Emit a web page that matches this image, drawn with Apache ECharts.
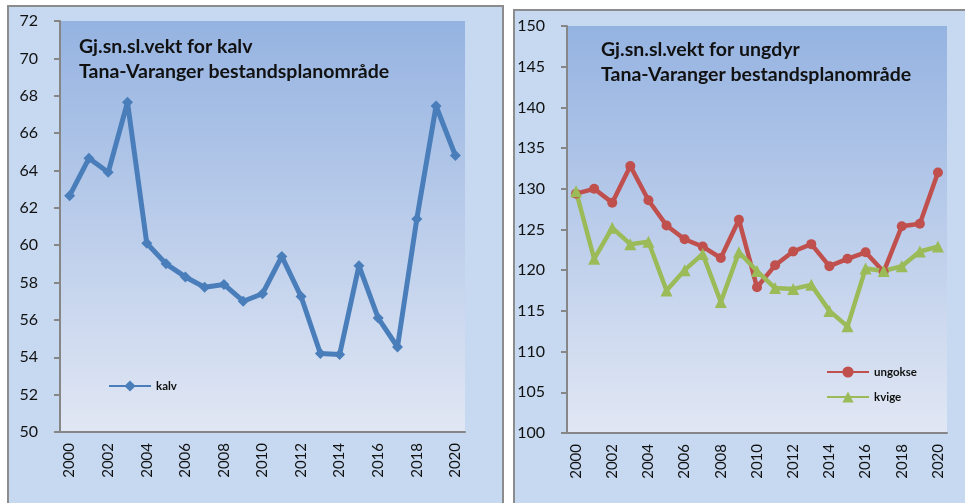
<!DOCTYPE html>
<html>
<head>
<meta charset="utf-8">
<script src="https://cdn.jsdelivr.net/npm/echarts@6/dist/echarts.min.js"></script>
<style>
  body { margin: 0; background: #fff; width: 965px; height: 503px; overflow: hidden; position: relative; }
  .panel { position: absolute; box-sizing: border-box; border: 2px solid #8c8c8c; background: #c6d9f1; }
  #chart { position: absolute; left: 0; top: 0; width: 965px; height: 503px; }
</style>
</head>
<body>
<div class="panel" style="left:7px; top:5px; width:497px; height:520px"></div>
<div class="panel" style="left:513px; top:9px; width:470px; height:520px"></div>
<div id="chart"></div>
<script>
const years = ['2000','2001','2002','2003','2004','2005','2006','2007','2008','2009','2010',
  '2011','2012','2013','2014','2015','2016','2017','2018','2019','2020'];
const kalv = [62.65, 64.65, 63.9, 67.65, 60.1, 59.0, 58.3, 57.75, 57.9, 57.0, 57.4,
  59.4, 57.25, 54.2, 54.15, 58.9, 56.1, 54.55, 61.4, 67.45, 64.8];
const ungokse = [129.4, 130.0, 128.3, 132.8, 128.6, 125.5, 123.8, 122.9, 121.5, 126.2, 117.9,
  120.6, 122.3, 123.2, 120.5, 121.4, 122.2, 119.8, 125.4, 125.7, 132.0];
const kvige = [129.7, 121.4, 125.2, 123.2, 123.5, 117.5, 120.0, 122.0, 116.1, 122.2, 119.9,
  117.8, 117.7, 118.2, 115.0, 113.1, 120.2, 119.9, 120.5, 122.3, 122.9];

const font = 'Lato, "Open Sans", sans-serif';
const plotBg = new echarts.graphic.LinearGradient(0, 0, 0, 1, [
  { offset: 0, color: '#95b3e1' },
  { offset: 1, color: '#e1e7f4' }
]);
const axisGray = '#868686';

function xAxis(gridIndex) {
  return {
    type: 'category', gridIndex: gridIndex, data: years, boundaryGap: true,
    axisLine: { lineStyle: { color: axisGray, width: 2 } },
    axisTick: { interval: 0, length: 5, lineStyle: { color: axisGray, width: 2 } },
    axisLabel: { interval: 1, rotate: 90, margin: 11, color: '#111', fontSize: 15, fontFamily: font }
  };
}
function yAxis(gridIndex, min, max, step) {
  return {
    type: 'value', gridIndex: gridIndex, min: min, max: max, interval: step,
    axisLine: { show: true, lineStyle: { color: axisGray, width: 2 } },
    axisTick: { show: true, length: 6, lineStyle: { color: axisGray, width: 2 } },
    splitLine: { show: false },
    axisLabel: { margin: 22, color: '#111', fontSize: 16, fontFamily: font }
  };
}

const titleStyle = { fontSize: 19.5, fontWeight: 'bold', color: '#111', fontFamily: font, lineHeight: 25 };
const legendText = { fontSize: 11.5, fontWeight: 'bold', color: '#111', fontFamily: font };

const chart = echarts.init(document.getElementById('chart'));
chart.setOption({
  animation: false,
  title: [
    { text: 'Gj.sn.sl.vekt for kalv\nTana-Varanger bestandsplanområde', left: 74, top: 29, textStyle: titleStyle },
    { text: 'Gj.sn.sl.vekt for ungdyr\nTana-Varanger bestandsplanområde', left: 596, top: 32, textStyle: titleStyle }
  ],
  legend: [
    { data: ['kalv'], left: 103, top: 375, itemWidth: 42, itemHeight: 14, textStyle: legendText },
    { data: ['ungokse', 'kvige'], orient: 'vertical', left: 821, top: 361, itemWidth: 42, itemHeight: 14,
      itemGap: 13, textStyle: legendText }
  ],
  grid: [
    { left: 60, top: 21, width: 405, height: 411, show: true, backgroundColor: plotBg, borderWidth: 0 },
    { left: 567, top: 26, width: 380, height: 407, show: true, backgroundColor: plotBg, borderWidth: 0 }
  ],
  xAxis: [xAxis(0), xAxis(1)],
  yAxis: [yAxis(0, 50, 72, 2), yAxis(1, 100, 150, 5)],
  series: [
    { name: 'kalv', type: 'line', xAxisIndex: 0, yAxisIndex: 0, data: kalv,
      symbol: 'diamond', symbolSize: 11, color: '#4a7ebb', lineStyle: { width: 5 } },
    { name: 'ungokse', type: 'line', xAxisIndex: 1, yAxisIndex: 1, data: ungokse,
      symbol: 'circle', symbolSize: 10, color: '#c0504d', lineStyle: { width: 4.5 } },
    { name: 'kvige', type: 'line', xAxisIndex: 1, yAxisIndex: 1, data: kvige,
      symbol: 'triangle', symbolSize: 12, color: '#9bbb59', lineStyle: { width: 4.5 } }
  ]
});
</script>
</body>
</html>
